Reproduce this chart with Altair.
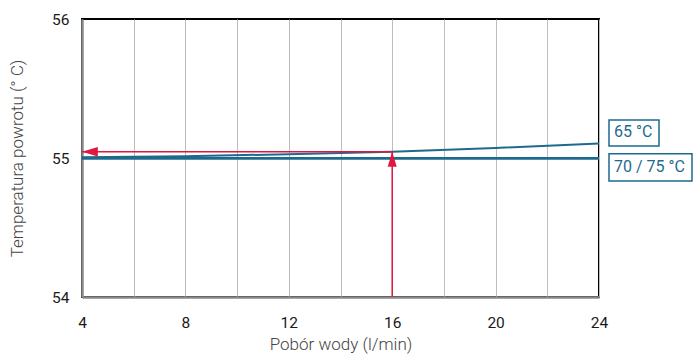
import altair as alt
import pandas as pd

flow = [4, 8, 12, 16, 20, 24]
t65 = [55.005, 55.013, 55.027, 55.045, 55.072, 55.105]
t70 = [55.0, 55.0, 55.0, 55.0, 55.0, 55.0]
t75 = [54.995, 54.995, 54.995, 54.995, 54.995, 54.995]

x_ticks = [4, 6, 8, 10, 12, 14, 16, 18, 20, 22, 24]
y_ticks = [54, 55, 56]

read_x = 16
read_y = 55.045
x_min = 4
y_min = 54

labels = ["65 °C", "70 / 75 °C"]
label_y = [55.19, 54.935]
box_top = [55.274, 55.03]
box_bottom = [55.087, 54.835]
box_w = [50, 83]

BLUE = "#1d6a8e"
RED = "#e0173f"
FONT = "Roboto"

rows = []
for name, vals in (("65", t65), ("70", t70), ("75", t75)):
    for f, v in zip(flow, vals):
        rows.append({"flow": f, "temp": v, "series": name})
df = pd.DataFrame(rows)

xs = alt.Scale(domain=[4, 24], nice=False, zero=False)
ys = alt.Scale(domain=[54, 56], nice=False, zero=False)

base_x = alt.X(
    "flow:Q", scale=xs,
    axis=alt.Axis(values=x_ticks, title="Pobór wody (l/min)",
                  labelExpr="datum.value % 4 == 0 ? toString(datum.value) : ''",
                  labelOverlap=False, labelFlush=False,
                  grid=True, gridColor="#bdbdbd", gridWidth=1, ticks=False,
                  domainColor="#8a8a8a", domainWidth=2.5,
                  labelFontSize=15.5, labelColor="#1a1a1a", labelPadding=18,
                  titleFontSize=17, titleFontWeight=300, titleColor="#444",
                  titlePadding=6, labelFont=FONT, titleFont=FONT),
)
base_y = alt.Y(
    "temp:Q", scale=ys,
    axis=alt.Axis(values=y_ticks, title="Temperatura powrotu (° C)", grid=False,
                  labelExpr="toString(round(datum.value))",
                  labelOverlap=False, labelFlush=False,
                  ticks=False, domainColor="#8a8a8a", domainWidth=2.5,
                  labelFontSize=15.5, labelColor="#1a1a1a", labelPadding=13,
                  titleFontSize=17, titleFontWeight=300, titleColor="#444",
                  titlePadding=25, labelFont=FONT, titleFont=FONT),
)

lines = alt.Chart(df).mark_line(color=BLUE, strokeWidth=2, clip=True).encode(
    x=base_x, y=base_y, detail="series:N"
)

arrow_df = pd.DataFrame({
    "x": [read_x, read_x], "y": [y_min, read_y],
    "x2": [read_x, x_min], "y2": [read_y, read_y],
})
arrow_lines = alt.Chart(arrow_df).mark_rule(color=RED, strokeWidth=1.5).encode(
    x=alt.X("x:Q", scale=xs), y=alt.Y("y:Q", scale=ys),
    x2="x2:Q", y2="y2:Q",
)

up_df = pd.DataFrame({"x": [read_x], "y": [read_y]})
up_head = alt.Chart(up_df).mark_point(
    shape="M0,0L-0.3,1L0.3,1Z", size=900, filled=True, color=RED, opacity=1
).encode(x=alt.X("x:Q", scale=xs), y=alt.Y("y:Q", scale=ys))

left_df = pd.DataFrame({"x": [x_min], "y": [read_y]})
left_head = alt.Chart(left_df).mark_point(
    shape="M0,0L1,-0.3L1,0.3Z", size=1000, filled=True, color=RED, opacity=1
).encode(x=alt.X("x:Q", scale=xs), y=alt.Y("y:Q", scale=ys))

lab_df = pd.DataFrame({
    "label": labels, "x": [24, 24], "y": label_y,
    "top": box_top, "bottom": box_bottom, "w": box_w,
})

box1 = alt.Chart(lab_df.iloc[[0]]).mark_rect(
    fill="white", stroke=BLUE, strokeWidth=1.5, clip=False,
    xOffset=10, x2Offset=10 + box_w[0]
).encode(x=alt.X("x:Q", scale=xs), x2="x:Q",
         y=alt.Y("top:Q", scale=ys), y2="bottom:Q")
box2 = alt.Chart(lab_df.iloc[[1]]).mark_rect(
    fill="white", stroke=BLUE, strokeWidth=1.5, clip=False,
    xOffset=10, x2Offset=10 + box_w[1]
).encode(x=alt.X("x:Q", scale=xs), x2="x:Q",
         y=alt.Y("top:Q", scale=ys), y2="bottom:Q")

texts = alt.Chart(lab_df).mark_text(
    align="left", baseline="middle", dx=15, fontSize=16, fontWeight="normal",
    color=BLUE, font=FONT
).encode(x=alt.X("x:Q", scale=xs), y=alt.Y("y:Q", scale=ys), text="label:N")

chart = alt.layer(lines, arrow_lines, up_head, left_head, box1, box2, texts).properties(
    width=517, height=278,
    autosize=alt.AutoSizeParams(type="none"),
    padding={"left": 82, "top": 19, "right": 94, "bottom": 59},
    background="white",
).configure_view(stroke="black", strokeWidth=2)

chart.save("out.html", embed_options={"renderer": "svg", "actions": False})
